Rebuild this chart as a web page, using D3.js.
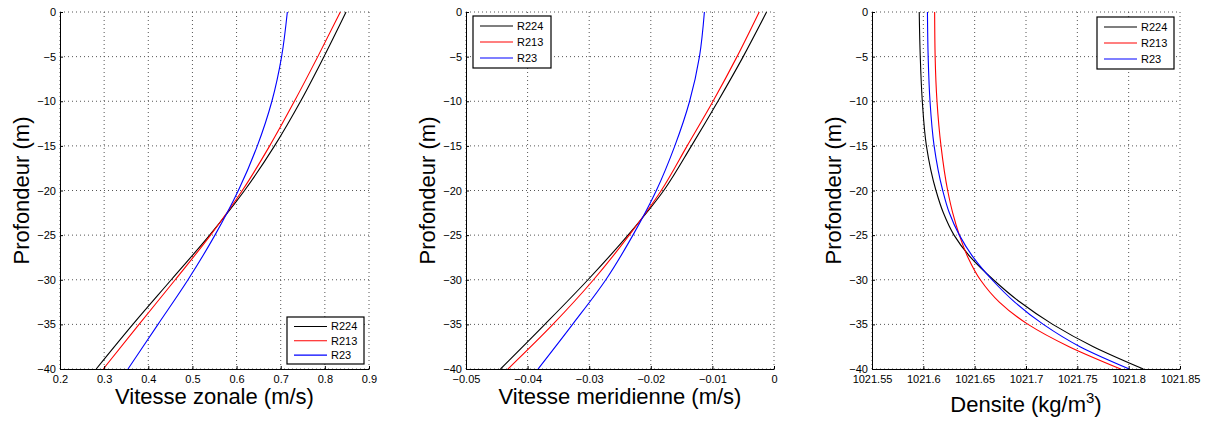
<!DOCTYPE html>
<html>
<head>
<meta charset="utf-8">
<script src="https://cdn.jsdelivr.net/npm/d3@7"></script>
<style>
    body { margin: 0; background: #fff; }
    text { font-family: "Liberation Sans", Arial, Helvetica, sans-serif; fill: #000; }
</style>
</head>
<body>
<svg id="drawing_region"></svg>
<script>
// series
const series_names = ['R224', 'R213', 'R23'];
const series_colors = ['#000000', '#ff0000', '#0000ff'];

// depth levels (m)
const depth = [0, -5, -10, -15, -20, -25, -30, -35, -40];
const depth_density = [0, -5, -10, -15, -20, -22.5, -25, -27.5, -30, -32.5, -35, -37.5, -40];

// zonal velocity (m/s)
const zonal_r224 = [0.848, 0.798, 0.745, 0.686, 0.618, 0.539, 0.452, 0.365, 0.282];
const zonal_r213 = [0.835, 0.784, 0.731, 0.675, 0.613, 0.541, 0.461, 0.379, 0.298];
const zonal_r23  = [0.715, 0.702, 0.680, 0.647, 0.604, 0.551, 0.490, 0.422, 0.354];

// meridional velocity (m/s)
const merid_r224 = [-0.0012, -0.0050, -0.0091, -0.0134, -0.0179, -0.0237, -0.0302, -0.0372, -0.0444];
const merid_r213 = [-0.0024, -0.0060, -0.0099, -0.0141, -0.0183, -0.0235, -0.0293, -0.0359, -0.0432];
const merid_r23  = [-0.0113, -0.0121, -0.0137, -0.0161, -0.0191, -0.0229, -0.0273, -0.0327, -0.0383];

// density (kg/m3)
const dens_r224 = [1021.596, 1021.597, 1021.599, 1021.603, 1021.6123, 1021.6195, 1021.6299, 1021.6461, 1021.6682, 1021.6941, 1021.7260, 1021.7656, 1021.8143];
const dens_r213 = [1021.611, 1021.6115, 1021.6133, 1021.6172, 1021.6237, 1021.6286, 1021.6351, 1021.6435, 1021.6555, 1021.6740, 1021.7020, 1021.7420, 1021.7922];
const dens_r23  = [1021.604, 1021.6047, 1021.6065, 1021.6105, 1021.6189, 1021.6253, 1021.6351, 1021.6487, 1021.6669, 1021.6890, 1021.7169, 1021.7526, 1021.8006];

// ticks
const depth_ticks = [0, -5, -10, -15, -20, -25, -30, -35, -40];
const zonal_ticks = [0.2, 0.3, 0.4, 0.5, 0.6, 0.7, 0.8, 0.9];
const merid_ticks = [-0.05, -0.04, -0.03, -0.02, -0.01, 0];
const dens_ticks = [1021.55, 1021.6, 1021.65, 1021.7, 1021.75, 1021.8, 1021.85];

const svg = d3.select('#drawing_region')
    .attr('width', 1210)
    .attr('height', 421);

class ProfilePlot {

    constructor(config, series) {
        this.config = config;
        this.series = series;
        this.init();
    }

    init() {
        let self = this;
        const c = self.config;

        self.chart = svg.append('g')
            .attr('transform', `translate(${c.left}, ${c.top})`);

        self.inner_width = c.width;
        self.inner_height = c.height;

        self.xscale = d3.scaleLinear()
            .domain(c.xdomain)
            .range([0, self.inner_width]);

        self.yscale = d3.scaleLinear()
            .domain([-40, 0])
            .range([self.inner_height, 0]);

        const fmt = v => String(v).replace('-', '\u2212');

        self.xaxis = d3.axisBottom(self.xscale)
            .tickValues(c.xticks)
            .tickFormat(fmt)
            .tickSizeInner(-3)
            .tickSizeOuter(0)
            .tickPadding(6);

        self.yaxis = d3.axisLeft(self.yscale)
            .tickValues(depth_ticks)
            .tickFormat(fmt)
            .tickSizeInner(-3)
            .tickSizeOuter(0)
            .tickPadding(4);

        self.grid = self.chart.append('g');
        self.lines = self.chart.append('g');
        self.xaxis_group = self.chart.append('g')
            .attr('transform', `translate(0, ${self.inner_height})`);
        self.yaxis_group = self.chart.append('g');
        self.legend = self.chart.append('g')
            .attr('transform', `translate(${c.legend.x}, ${c.legend.y})`);

        // axis labels
        self.chart.append('text')
            .attr('transform', 'rotate(-90)')
            .attr('x', -self.inner_height / 2)
            .attr('y', -31)
            .attr('text-anchor', 'middle')
            .style('font-size', '22px')
            .text('Profondeur (m)');

        const xl = self.chart.append('text')
            .attr('x', self.inner_width / 2)
            .attr('y', self.inner_height + c.xlabel_offset)
            .attr('text-anchor', 'middle')
            .style('font-size', '22px');
        xl.append('tspan').text(c.xlabel);
        if (c.xlabel_sup) {
            xl.append('tspan').attr('dy', -9).style('font-size', '15px').text(c.xlabel_sup);
            xl.append('tspan').attr('dy', 9).text(')');
        }
    }

    render() {
        let self = this;
        const c = self.config;

        // dotted grid
        self.grid.selectAll('.vgrid').data(c.xticks).join('line')
            .attr('class', 'vgrid')
            .attr('x1', d => self.xscale(d)).attr('x2', d => self.xscale(d))
            .attr('y1', 0).attr('y2', self.inner_height)
            .attr('stroke', '#555').attr('stroke-width', 1)
            .attr('stroke-dasharray', '1,3');

        self.grid.selectAll('.hgrid').data(depth_ticks).join('line')
            .attr('class', 'hgrid')
            .attr('x1', 0).attr('x2', self.inner_width)
            .attr('y1', d => self.yscale(d)).attr('y2', d => self.yscale(d))
            .attr('stroke', '#555').attr('stroke-width', 1)
            .attr('stroke-dasharray', '1,3');

        const line = d3.line()
            .x(d => self.xscale(d.v))
            .y(d => self.yscale(d.z))
            .curve(d3.curveMonotoneY);

        self.lines.selectAll('path').data(self.series).join('path')
            .attr('d', s => line(s.values))
            .attr('fill', 'none')
            .attr('stroke', s => s.color)
            .attr('stroke-width', 1.1);

        self.xaxis_group.call(self.xaxis);
        self.yaxis_group.call(self.yaxis);
        [self.xaxis_group, self.yaxis_group].forEach(g => {
            g.selectAll('text').style('font-size', '11px')
                .style('font-family', '"Liberation Sans", Arial, sans-serif');
            g.selectAll('path, line').attr('stroke', '#000');
        });

        // legend
        const L = c.legend;
        self.legend.append('rect')
            .attr('width', L.w).attr('height', L.h)
            .attr('fill', '#fff').attr('stroke', '#000').attr('stroke-width', 1.2);

        const rows = self.legend.selectAll('.row').data(self.series).join('g')
            .attr('class', 'row')
            .attr('transform', (s, i) => `translate(0, ${L.row0 + i * L.gap})`);
        rows.append('line')
            .attr('x1', 7).attr('x2', 40)
            .attr('stroke', s => s.color).attr('stroke-width', 1.1);
        rows.append('text')
            .attr('x', 44).attr('dy', '0.35em')
            .style('font-size', '11px')
            .text(s => s.name);
    }
}

function make_series(z, arrays) {
    return arrays.map((arr, i) => ({
        name: series_names[i],
        color: series_colors[i],
        values: arr.map((v, k) => ({ z: z[k], v: v }))
    }));
}

const plots = [
    {
        config: {
            left: 60, top: 12, width: 309, height: 357,
            xdomain: [0.2, 0.9], xticks: zonal_ticks,
            xlabel: 'Vitesse zonale (m/s)', xlabel_offset: 35,
            legend: { x: 227, y: 305, w: 77, h: 47, row0: 9.5, gap: 14.3 }
        },
        series: make_series(depth, [zonal_r224, zonal_r213, zonal_r23])
    },
    {
        config: {
            left: 466, top: 12, width: 308, height: 357,
            xdomain: [-0.05, 0], xticks: merid_ticks,
            xlabel: 'Vitesse meridienne (m/s)', xlabel_offset: 35,
            legend: { x: 7, y: 4, w: 78, h: 52, row0: 10, gap: 16 }
        },
        series: make_series(depth, [merid_r224, merid_r213, merid_r23])
    },
    {
        config: {
            left: 872, top: 12, width: 308, height: 357,
            xdomain: [1021.55, 1021.85], xticks: dens_ticks,
            xlabel: 'Densite (kg/m', xlabel_sup: '3', xlabel_offset: 43,
            legend: { x: 225, y: 5, w: 77, h: 52, row0: 10, gap: 16 }
        },
        series: make_series(depth_density, [dens_r224, dens_r213, dens_r23])
    }
];

plots.forEach(p => {
    const plot = new ProfilePlot(p.config, p.series);
    plot.render();
});
</script>
</body>
</html>
